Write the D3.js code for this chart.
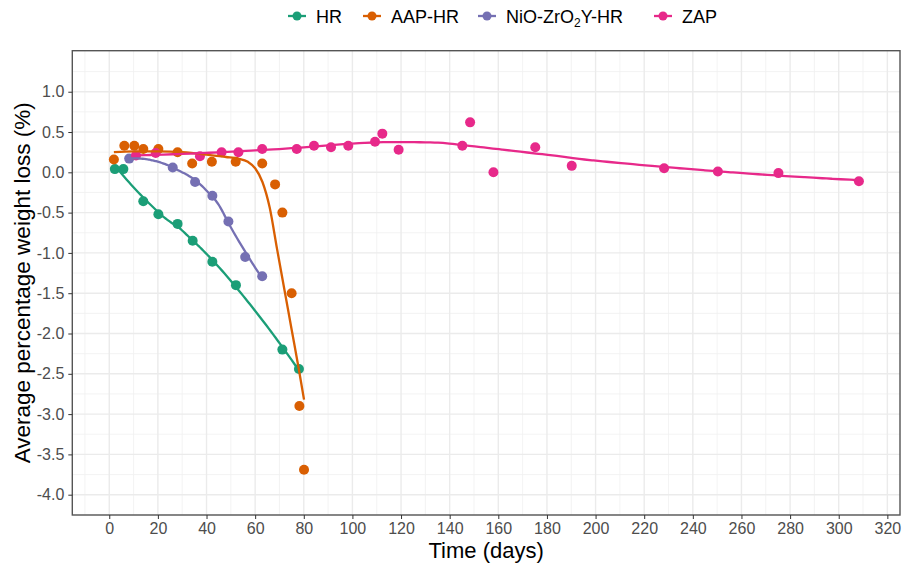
<!DOCTYPE html>
<html>
<head>
<meta charset="utf-8">
<script src="https://cdn.jsdelivr.net/npm/d3@7"></script>
<style>
  html, body { margin: 0; padding: 0; background: #fff; }
  svg text { font-family: "Liberation Sans", Arial, sans-serif; }
</style>
</head>
<body>
<svg id="chart" width="905" height="568"></svg>
<script>
// Weight-loss measurements per coating (days, % loss)
const hrDays  = [2.3, 5.8, 14.0, 20.2, 28.1, 34.3, 42.4, 52.1, 71.2, 78.0];
const hrLoss  = [0.04, 0.04, -0.36, -0.52, -0.64, -0.85, -1.11, -1.40, -2.20, -2.44];

const aapDays = [1.9, 6.2, 10.3, 14.0, 20.2, 28.1, 34.1, 42.2, 52.0, 62.9, 68.2, 71.2, 75.0, 78.2, 80.1];
const aapLoss = [0.16, 0.33, 0.33, 0.29, 0.29, 0.25, 0.11, 0.13, 0.13, 0.11, -0.15, -0.50, -1.50, -2.90, -3.69];

const nioDays = [8.2, 26.1, 35.3, 42.4, 49.0, 55.9, 62.9];
const nioLoss = [0.17, 0.06, -0.12, -0.29, -0.61, -1.05, -1.29];

const zapDays = [11.0, 19.1, 37.3, 46.2, 53.1, 62.9, 77.1, 84.2, 91.2, 98.3, 109.3, 112.3, 119.0,
                 145.2, 148.4, 158.0, 175.2, 190.2, 228.2, 250.3, 275.2, 308.3];
const zapLoss = [0.21, 0.24, 0.20, 0.25, 0.25, 0.29, 0.29, 0.33, 0.31, 0.33, 0.38, 0.48, 0.28,
                 0.33, 0.62, 0.00, 0.31, 0.08, 0.05, 0.01, -0.01, -0.11];

// Fitted trend for AAP-HR (model output at selected days)
const aapTrendDays = [1.9, 10, 20, 30, 40, 48, 53, 57, 60, 63, 66, 69, 72, 75, 78, 80.1];
const aapTrendLoss = [0.25, 0.26, 0.26, 0.25, 0.22, 0.19, 0.17, 0.13, 0.05, -0.12, -0.44, -0.95, -1.45, -1.95, -2.45, -2.82];

const seriesKeys   = ["HR", "AAP-HR", "NiO-ZrO2Y-HR", "ZAP"];
const seriesColors = ["#1B9E77", "#D95F02", "#7570B3", "#E7298A"];

const xTicks = d3.range(0, 321, 20);
const yTicks = [1.0, 0.5, 0.0, -0.5, -1.0, -1.5, -2.0, -2.5, -3.0, -3.5, -4.0];

// Local quadratic regression (loess, tricube weights, span 0.75)
function loess(xs, ys, span = 0.75, nOut = 80) {
  const n = xs.length;
  const q = Math.max(3, Math.floor(n * span));
  const lo = d3.min(xs), hi = d3.max(xs);
  const out = [];
  for (let k = 0; k < nOut; k++) {
    const x = lo + (hi - lo) * k / (nOut - 1);
    const dist = xs.map(v => Math.abs(v - x));
    const sorted = dist.slice().sort((a, b) => a - b);
    let h = sorted[q - 1];
    if (q < n) h = (sorted[q - 1] + sorted[q]) / 2;
    h = Math.max(h, 1e-9) * 1.0001;
    const w = dist.map(d => { const u = d / h; return u < 1 ? Math.pow(1 - u * u * u, 3) : 0; });
    const A = [[0,0,0],[0,0,0],[0,0,0]], B = [0,0,0];
    for (let i = 0; i < n; i++) {
      const u = xs[i] - x, f = [1, u, u * u];
      for (let r = 0; r < 3; r++) {
        B[r] += w[i] * f[r] * ys[i];
        for (let c = 0; c < 3; c++) A[r][c] += w[i] * f[r] * f[c];
      }
    }
    out.push([x, solve3(A, B)[0]]);
  }
  return out;
}
function solve3(A, B) {
  const M = A.map((row, i) => row.concat([B[i]]));
  for (let c = 0; c < 3; c++) {
    let p = c;
    for (let r = c + 1; r < 3; r++) if (Math.abs(M[r][c]) > Math.abs(M[p][c])) p = r;
    [M[c], M[p]] = [M[p], M[c]];
    for (let r = 0; r < 3; r++) {
      if (r === c) continue;
      const f = M[r][c] / M[c][c];
      for (let k = c; k < 4; k++) M[r][k] -= f * M[c][k];
    }
  }
  return [M[0][3] / M[0][0], M[1][3] / M[1][1], M[2][3] / M[2][2]];
}

const series = [
  { key: seriesKeys[0], color: seriesColors[0], days: hrDays,  loss: hrLoss,
    trend: loess(hrDays, hrLoss) },
  { key: seriesKeys[1], color: seriesColors[1], days: aapDays, loss: aapLoss,
    trend: aapTrendDays.map((d, i) => [d, aapTrendLoss[i]]) },
  { key: seriesKeys[2], color: seriesColors[2], days: nioDays, loss: nioLoss,
    trend: loess(nioDays, nioLoss) },
  { key: seriesKeys[3], color: seriesColors[3], days: zapDays, loss: zapLoss,
    trend: loess(zapDays, zapLoss) }
];

const svg = d3.select("#chart");
const panel = { left: 72.3, right: 900, top: 50.7, bottom: 515 };

const x = d3.scaleLinear().domain([-15.2, 325.2]).range([panel.left, panel.right]);
const y = d3.scaleLinear().domain([-4.252, 1.509]).range([panel.bottom, panel.top]);

// grid
const grid = svg.append("g");
const xMinor = d3.range(-10, 326, 20);
const yMinor = d3.range(-4.25, 1.51, 0.5);
grid.selectAll(".xm").data(xMinor).join("line")
  .attr("x1", d => x(d)).attr("x2", d => x(d))
  .attr("y1", panel.top).attr("y2", panel.bottom)
  .attr("stroke", "#F0F0F0").attr("stroke-width", 0.8);
grid.selectAll(".ym").data(yMinor).join("line")
  .attr("y1", d => y(d)).attr("y2", d => y(d))
  .attr("x1", panel.left).attr("x2", panel.right)
  .attr("stroke", "#F0F0F0").attr("stroke-width", 0.8);
grid.selectAll(".xM").data(xTicks).join("line")
  .attr("x1", d => x(d)).attr("x2", d => x(d))
  .attr("y1", panel.top).attr("y2", panel.bottom)
  .attr("stroke", "#EBEBEB").attr("stroke-width", 1.4);
grid.selectAll(".yM").data(yTicks).join("line")
  .attr("y1", d => y(d)).attr("y2", d => y(d))
  .attr("x1", panel.left).attr("x2", panel.right)
  .attr("stroke", "#EBEBEB").attr("stroke-width", 1.4);

// points
const pts = svg.append("g");
series.forEach(s => {
  pts.selectAll(null).data(s.days.map((d, i) => [d, s.loss[i]])).join("circle")
    .attr("cx", d => x(d[0])).attr("cy", d => y(d[1])).attr("r", 5)
    .attr("fill", s.color);
});

// smoothed trend lines
const line = d3.line().x(d => x(d[0])).y(d => y(d[1])).curve(d3.curveMonotoneX);
const lines = svg.append("g");
series.forEach(s => {
  lines.append("path").datum(s.trend)
    .attr("d", line).attr("fill", "none")
    .attr("stroke", s.color).attr("stroke-width", 2.3);
});

// panel border
svg.append("rect")
  .attr("x", panel.left).attr("y", panel.top)
  .attr("width", panel.right - panel.left).attr("height", panel.bottom - panel.top)
  .attr("fill", "none").attr("stroke", "#555").attr("stroke-width", 1.4);

// axes
const xAxis = svg.append("g").attr("transform", `translate(0,${panel.bottom})`)
  .call(d3.axisBottom(x).tickValues(xTicks).tickSize(4).tickPadding(4).tickFormat(d3.format("d")));
const yAxis = svg.append("g").attr("transform", `translate(${panel.left},0)`)
  .call(d3.axisLeft(y).tickValues(yTicks).tickSize(4).tickPadding(4).tickFormat(d3.format(".1f")));
[xAxis, yAxis].forEach(a => {
  a.select(".domain").remove();
  a.selectAll(".tick line").attr("stroke", "#333");
  a.selectAll(".tick text").attr("fill", "#4D4D4D").attr("font-size", 16)
    .style("font-family", "'Liberation Sans', Arial, sans-serif");
});
yAxis.selectAll(".tick text").text(d => d3.format(".1f")(d).replace("−", "-"));

// axis titles
svg.append("text").attr("x", (panel.left + panel.right) / 2).attr("y", 558)
  .attr("text-anchor", "middle").attr("font-size", 22).attr("fill", "#000").text("Time (days)");
svg.append("text")
  .attr("transform", `translate(30,${(panel.top + panel.bottom) / 2}) rotate(-90)`)
  .attr("text-anchor", "middle").attr("font-size", 22.5).attr("fill", "#000")
  .text("Average percentage weight loss (%)");

// legend
const legend = svg.append("g").attr("transform", "translate(0,16)");
const legendX = [297, 372, 487, 663];
series.forEach((s, i) => {
  const g = legend.append("g").attr("transform", `translate(${legendX[i]},0)`);
  g.append("line").attr("x1", -9).attr("x2", 9).attr("y1", 0).attr("y2", 0)
    .attr("stroke", s.color).attr("stroke-width", 2.3);
  g.append("circle").attr("r", 4.5).attr("fill", s.color);
  const t = g.append("text").attr("x", 19).attr("y", 6.5).attr("font-size", 18).attr("fill", "#000");
  if (s.key === "NiO-ZrO2Y-HR") {
    t.append("tspan").text("NiO-ZrO");
    t.append("tspan").attr("font-size", 12).attr("dy", 4).text("2");
    t.append("tspan").attr("dy", -4).text("Y-HR");
  } else {
    t.text(s.key);
  }
});
</script>
</body>
</html>
